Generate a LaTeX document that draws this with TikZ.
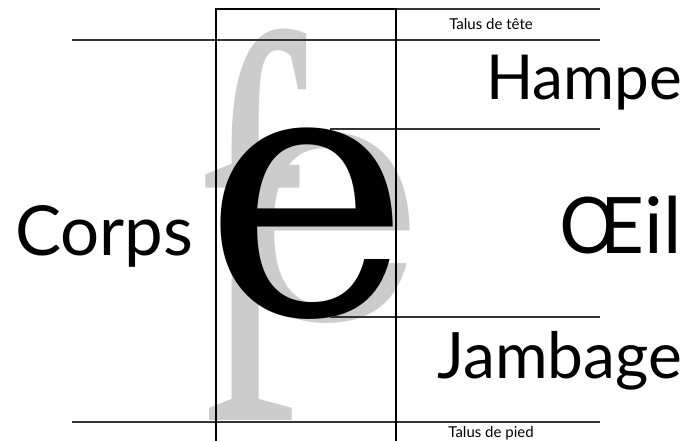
\documentclass[tikz,border=0pt]{standalone}
\usepackage{fontspec}
\newfontfamily\papfont{Lato}
\newfontfamily\glyphfont{Liberation Serif}
\newfontfamily\efont{DejaVu Serif}
\definecolor{lightgr}{HTML}{CCCCCC}
\definecolor{linegr}{HTML}{333333}
\tikzset{
  guide/.style={draw=linegr, line width=1.1pt},
  frame/.style={draw=black, line width=1.6pt},
  bigword/.style={anchor=base east, inner sep=0pt},
  smallword/.style={anchor=base, inner sep=0pt, font=\papfont\fontsize{15}{15}\selectfont},
  glyph/.style={inner sep=0pt},
}
\begin{document}
\begin{tikzpicture}[x=1pt,y=-1pt]
\useasboundingbox (0,0) rectangle (696,441);
\fill[white] (0,0) rectangle (696,441);
% glyphs
\node[glyph, anchor=base west, text=lightgr, font=\glyphfont\fontsize{556}{556}\selectfont] (gf) at (195,420) {\scalebox{0.6}[1]{f}};
\node[glyph, anchor=base, text=lightgr, font=\efont\fontsize{350}{350}\selectfont] (ge) at (324,318) {e};
\node[glyph, anchor=base, text=black, font=\efont\fontsize{350}{350}\selectfont] (be) at (307,314) {e};
% coordinates
\coordinate (tl) at (216,9);
\coordinate (tr) at (396,9);
\coordinate (bl) at (216,441);
\coordinate (br) at (396,441);
\coordinate (t0) at (600,9);
\coordinate (a0) at (72,40);
\coordinate (a1) at (600,40);
\coordinate (b0) at (330,129);
\coordinate (b1) at (600,129);
\coordinate (c0) at (330,317);
\coordinate (c1) at (600,317);
\coordinate (d0) at (72,422);
\coordinate (d1) at (600,422);
% guide lines
\draw[guide] (tr) -- (t0);
\draw[guide] (a0) -- (a1);
\draw[guide] (b0) -- (b1);
\draw[guide] (c0) -- (c1);
\draw[guide] (d0) -- (d1);
% frame
\draw[frame] (bl) -- (tl) -- (tr) -- (br);
% labels
\node[smallword] (tete) at (491,30) {Talus de tête};
\node[smallword] (pied) at (491,437) {Talus de pied};
\node[bigword, font=\papfont\fontsize{62}{62}\selectfont] (hampe) at (682,100) {Hampe};
\node[bigword, anchor=base west, font=\papfont\fontsize{69}{69}\selectfont] (corps) at (15,255) {Corps};
\node[bigword, font=\papfont\fontsize{78}{78}\selectfont] (oeil) at (682,253) {Œil};
\node[bigword, font=\papfont\fontsize{64}{64}\selectfont] (jambage) at (682,378) {Jambage};
\end{tikzpicture}
\end{document}
